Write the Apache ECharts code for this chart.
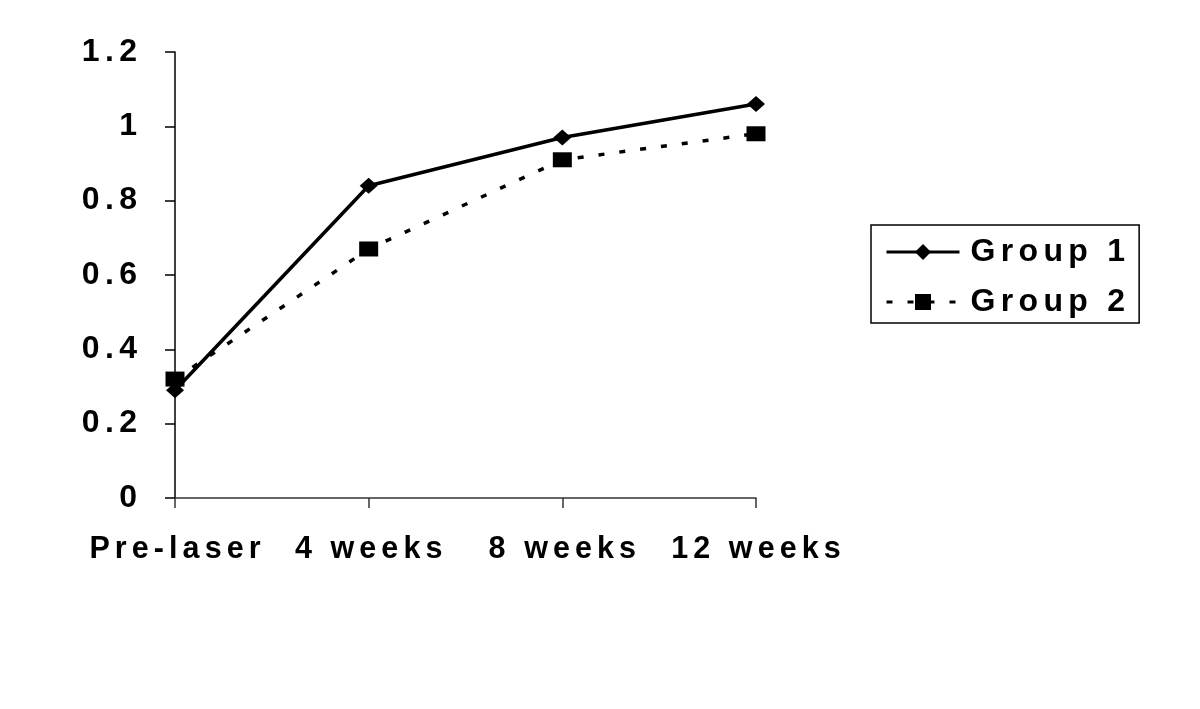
<!DOCTYPE html>
<html>
<head>
<meta charset="utf-8">
<script src="https://cdn.jsdelivr.net/npm/echarts@6/dist/echarts.min.js"></script>
<style>
  html, body { margin: 0; padding: 0; background: #fff; }
  #main { width: 1200px; height: 709px; }
</style>
</head>
<body>
<div id="main"></div>
<script>
    'use strict';

    var categories = ['Pre-laser', '4 weeks', '8 weeks', '12 weeks'];
    var group1 = [0.29, 0.84, 0.97, 1.06];
    var group2 = [0.32, 0.67, 0.91, 0.98];
    var seriesNames = ['Group 1', 'Group 2'];

    // the original uses a wide-tracked bold font, so put a six-per-em space between letters
    function spaced(s) {
        return String(s).split('').join('\u2006');
    }

    var font = {
        fontFamily : 'Liberation Sans, Arial, sans-serif',
        fontWeight : 'bold',
        color : '#000'
    };

    var option = {
        backgroundColor : '#fff',
        animation : false,
        grid : {
            left : 175,
            right : 444,
            top : 52,
            bottom : 211
        },
        legend : {
            orient : 'vertical',
            left : 871,
            top : 225,
            padding : [ 9, 14, 3, 14 ],
            itemWidth : 73,
            itemHeight : 20,
            itemGap : 14,
            borderColor : '#000',
            borderWidth : 1.5,
            data : seriesNames,
            lineStyle : { width : 3 },
            formatter : function (name) { return spaced(name); },
            textStyle : Object.assign({}, font, { fontSize : 32, lineHeight : 36, padding : [ 0, 0, 0, 6 ] })
        },
        xAxis : {
            type : 'category',
            boundaryGap : false,
            data : categories,
            axisLine : { lineStyle : { color : '#333', width : 1.5 } },
            axisTick : { show : true, length : 10, alignWithLabel : true, lineStyle : { color : '#333', width : 1.5 } },
            axisLabel : Object.assign({ margin : 36, fontSize : 30.5, formatter : spaced, interval : 0 }, font),
            splitLine : { show : false }
        },
        yAxis : {
            type : 'value',
            min : 0,
            max : 1.2,
            interval : 0.2,
            axisLine : { show : true, lineStyle : { color : '#000', width : 1.5 } },
            axisTick : { show : true, length : 10, lineStyle : { color : '#000', width : 1.5 } },
            axisLabel : Object.assign({
                margin : 38,
                fontSize : 32,
                formatter : function (v) { return spaced(+v.toFixed(1)); }
            }, font),
            splitLine : { show : false }
        },
        series : [
            {
                name : seriesNames[0],
                type : 'line',
                data : group1,
                symbol : 'diamond',
                symbolSize : [ 18, 16 ],
                itemStyle : { color : '#000' },
                lineStyle : { color : '#000', width : 3.5, type : 'solid' }
            },
            {
                name : seriesNames[1],
                type : 'line',
                data : group2,
                symbol : 'rect',
                symbolSize : [ 19, 15 ],
                itemStyle : { color : '#000' },
                lineStyle : { color : '#000', width : 3.5, type : [ 6, 15 ] }
            }
        ]
    };

    var chart = echarts.init(document.getElementById('main'), null, { renderer : 'canvas' });
    chart.setOption(option);
</script>
</body>
</html>
